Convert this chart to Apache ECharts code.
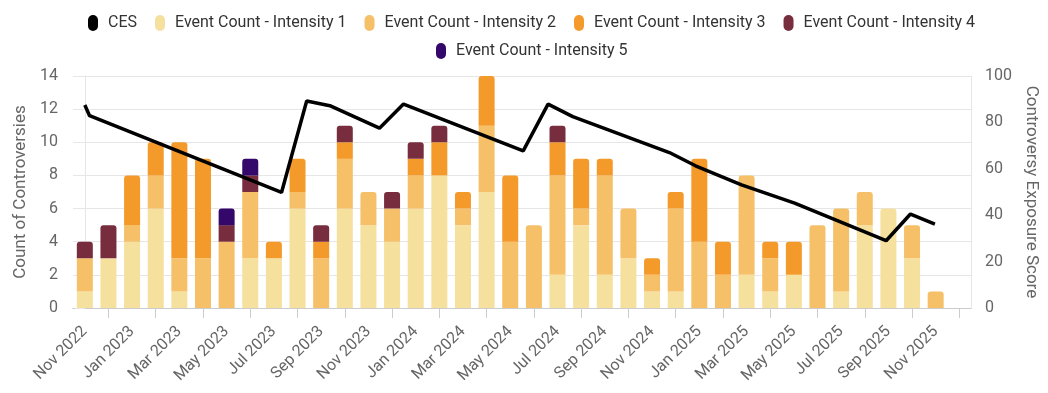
<!DOCTYPE html>
<html>
<head>
<meta charset="utf-8">
<script src="https://cdn.jsdelivr.net/npm/echarts@6/dist/echarts.min.js"></script>
<style>
  html, body { margin: 0; padding: 0; background: #fff; }
  #chart { width: 1048px; height: 393px; }
</style>
</head>
<body>
<div id="chart"></div>
<script>
// ---- Data ----
const months = ['Nov 2022','Dec 2022','Jan 2023','Feb 2023','Mar 2023','Apr 2023','May 2023','Jun 2023','Jul 2023','Aug 2023','Sep 2023','Oct 2023',
  'Nov 2023','Dec 2023','Jan 2024','Feb 2024','Mar 2024','Apr 2024','May 2024','Jun 2024','Jul 2024','Aug 2024','Sep 2024','Oct 2024',
  'Nov 2024','Dec 2024','Jan 2025','Feb 2025','Mar 2025','Apr 2025','May 2025','Jun 2025','Jul 2025','Aug 2025','Sep 2025','Oct 2025',
  'Nov 2025','Dec 2025'];
const intensity1 = [1,3,4,6,1,0,0,3,3,6,0,6,5,4,6,8,5,7,0,0,2,5,2,3,1,1,0,0,2,1,2,0,1,5,6,3,0];
const intensity2 = [2,0,1,2,2,3,4,4,0,1,3,3,2,2,2,0,1,4,4,5,6,1,6,3,1,5,4,2,6,2,0,5,5,2,0,2,1];
const intensity3 = [0,0,3,2,7,6,0,0,1,2,1,1,0,0,1,2,1,3,4,0,2,3,1,0,1,1,5,2,0,1,2,0,0,0,0,0,0];
const intensity4 = [1,2,0,0,0,0,1,1,0,0,1,1,0,1,1,1,0,0,0,0,1,0,0,0,0,0,0,0,0,0,0,0,0,0,0,0,0];
const intensity5 = [0,0,0,0,0,0,1,1,0,0,0,0,0,0,0,0,0,0,0,0,0,0,0,0,0,0,0,0,0,0,0,0,0,0,0,0,0];
const cesDates = ['2022-11-01','2022-11-07','2023-07-11','2023-08-13','2023-09-12','2023-11-15','2023-12-16',
  '2024-05-18','2024-06-19','2024-07-21','2024-11-23','2024-12-27','2025-02-23','2025-05-02','2025-08-29','2025-09-29','2025-10-31'];
const cesValues = [87.5,82.9,49.8,89.2,87.2,77.5,87.9,67.7,87.9,82.5,67.0,61.3,53.1,45.2,29.0,40.5,36.2];
const seriesNames = ['Event Count - Intensity 1','Event Count - Intensity 2','Event Count - Intensity 3','Event Count - Intensity 4','Event Count - Intensity 5'];
const seriesColors = ['#f5e09e','#f5c068','#f49a2a','#782d3e','#33086a'];

// ---- Helpers ----
function monthPos(d) {
  const [y, m, day] = d.split('-').map(Number);
  const dim = new Date(y, m, 0).getDate();
  return (y - 2022) * 12 + (m - 11) + (day - 1) / dim;
}
const stacks = [intensity1, intensity2, intensity3, intensity4, intensity5];
const topIdx = intensity1.map((_, i) => {
  let t = -1;
  stacks.forEach((s, k) => { if (s[i] > 0) t = k; });
  return t;
});

const barSeries = stacks.map((arr, k) => ({
  name: seriesNames[k],
  type: 'bar',
  stack: 'events',
  xAxisIndex: 0,
  yAxisIndex: 0,
  barWidth: 16,
  itemStyle: { color: seriesColors[k] },
  data: arr.map((v, i) => topIdx[i] === k
    ? { value: v, itemStyle: { borderRadius: [3, 3, 0, 0] } }
    : v)
}));

const lineSeries = {
  name: 'CES',
  type: 'line',
  xAxisIndex: 1,
  yAxisIndex: 1,
  showSymbol: false,
  symbol: 'none',
  z: 5,
  lineStyle: { color: '#000', width: 3.5 },
  itemStyle: { color: '#000' },
  data: cesDates.map((d, i) => [monthPos(d), cesValues[i]])
};

const legendIcon = 'path://M5,0 A5,5 0 0 1 10,5 L10,11 A5,5 0 0 1 5,16 A5,5 0 0 1 0,11 L0,5 A5,5 0 0 1 5,0 Z';
const legendCommon = {
  icon: legendIcon,
  itemWidth: 12,
  itemHeight: 16,
  itemGap: 18,
  textStyle: { color: '#333', fontSize: 16, fontFamily: 'Roboto', padding: [0, 0, 0, 4] }
};

const chart = echarts.init(document.getElementById('chart'), null, { renderer: 'canvas' });
chart.setOption({
  animation: false,
  textStyle: { fontFamily: 'Roboto' },
  legend: [
    Object.assign({ top: 10, left: 83, data: ['CES'].concat(seriesNames.slice(0, 4)) }, legendCommon),
    Object.assign({ top: 38, left: 431, data: [seriesNames[4]] }, legendCommon)
  ],
  grid: { left: 73, right: 73, top: 76, bottom: 85, containLabel: false },
  xAxis: [
    {
      type: 'category',
      data: months,
      boundaryGap: true,
      axisLine: { show: true, lineStyle: { color: '#ccc' } },
      axisTick: { show: true, alignWithLabel: true, length: 10, lineStyle: { color: '#ccc' },
        interval: (idx) => idx % 2 === 1 },
      axisLabel: { rotate: 45, color: '#666', fontSize: 16, margin: 21,
        interval: (idx) => idx % 2 === 0 },
      splitLine: { show: false }
    },
    {
      type: 'value',
      min: -0.5,
      max: 37.5,
      show: false
    }
  ],
  yAxis: [
    {
      type: 'value',
      min: 0, max: 14, interval: 2,
      name: 'Count of Controversies',
      nameLocation: 'middle',
      nameGap: 44,
      nameTextStyle: { color: '#666', fontSize: 17 },
      axisLine: { show: true, lineStyle: { color: '#e6e6e6' } },
      axisTick: { show: true, length: 10, lineStyle: { color: '#e6e6e6' } },
      axisLabel: { color: '#666', fontSize: 16, margin: 15 },
      splitLine: { lineStyle: { color: '#e6e6e6' } }
    },
    {
      type: 'value',
      min: 0, max: 100, interval: 20,
      name: 'Controversy Exposure Score',
      nameLocation: 'middle',
      nameRotate: -90,
      nameGap: 51,
      nameTextStyle: { color: '#666', fontSize: 17 },
      axisLine: { show: true, lineStyle: { color: '#e6e6e6' } },
      axisTick: { show: false },
      axisLabel: { color: '#666', fontSize: 16, margin: 14 },
      splitLine: { show: false }
    }
  ],
  series: [lineSeries].concat(barSeries)
});
</script>
</body>
</html>
